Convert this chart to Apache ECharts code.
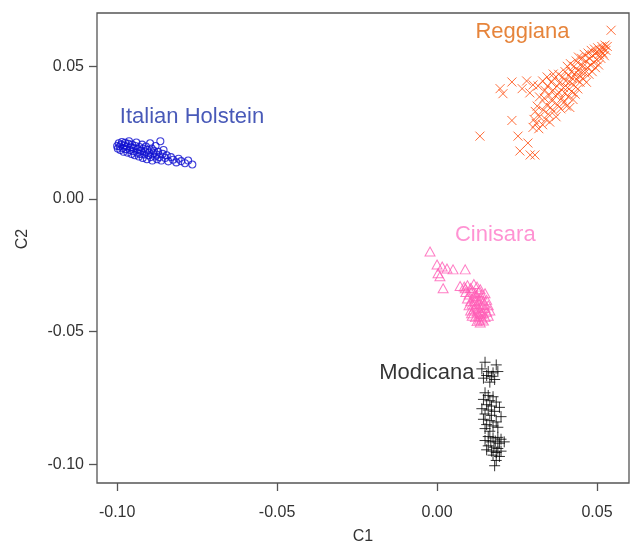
<!DOCTYPE html>
<html>
<head>
<meta charset="utf-8">
<script src="https://cdn.jsdelivr.net/npm/echarts@6/dist/echarts.min.js"></script>
<style>
html,body{margin:0;padding:0;background:#fff;}
#chart{width:631px;height:550px;}
</style>
</head>
<body>
<div id="chart"></div>
<script>
// ---- Data (C1, C2) ----
var italianHolstein = [
[-0.1000,0.0200],[-0.0998,0.0190],[-0.0995,0.0210],[-0.0992,0.0198],[-0.0990,0.0185],[-0.0987,0.0205],
[-0.0985,0.0215],[-0.0982,0.0192],[-0.0980,0.0178],[-0.0978,0.0202],[-0.0975,0.0212],[-0.0973,0.0188],
[-0.0970,0.0198],[-0.0968,0.0175],[-0.0965,0.0208],[-0.0963,0.0218],[-0.0960,0.0185],[-0.0958,0.0195],
[-0.0955,0.0170],[-0.0953,0.0205],[-0.0950,0.0180],[-0.0948,0.0192],[-0.0945,0.0165],[-0.0943,0.0200],
[-0.0940,0.0213],[-0.0938,0.0175],[-0.0935,0.0188],[-0.0932,0.0160],[-0.0930,0.0196],[-0.0928,0.0170],
[-0.0925,0.0182],[-0.0922,0.0205],[-0.0920,0.0155],[-0.0918,0.0190],[-0.0915,0.0168],[-0.0912,0.0178],
[-0.0910,0.0198],[-0.0907,0.0150],[-0.0905,0.0185],[-0.0902,0.0165],[-0.0900,0.0175],[-0.0897,0.0210],
[-0.0895,0.0158],[-0.0892,0.0190],[-0.0890,0.0145],[-0.0887,0.0172],[-0.0885,0.0182],[-0.0882,0.0160],
[-0.0880,0.0200],[-0.0877,0.0168],[-0.0875,0.0150],[-0.0872,0.0178],[-0.0868,0.0158],[-0.0865,0.0218],
[-0.0862,0.0145],[-0.0858,0.0170],[-0.0855,0.0185],[-0.0850,0.0155],[-0.0845,0.0165],[-0.0840,0.0142],
[-0.0832,0.0158],[-0.0825,0.0148],[-0.0815,0.0138],[-0.0808,0.0152],[-0.0800,0.0143],[-0.0788,0.0135],
[-0.0778,0.0145],[-0.0765,0.0130]
];
var reggiana = [
[0.0300,0.0270],[0.0303,0.0300],[0.0307,0.0330],[0.0310,0.0285],[0.0313,0.0350],[0.0318,0.0265],[0.0320,0.0310],
[0.0330,0.0280],[0.0332,0.0335],[0.0335,0.0380],[0.0337,0.0410],[0.0340,0.0300],[0.0342,0.0355],[0.0345,0.0425],
[0.0348,0.0320],[0.0350,0.0390],
[0.0352,0.0290],[0.0355,0.0345],[0.0357,0.0440],[0.0360,0.0370],[0.0362,0.0410],[0.0365,0.0330],[0.0367,0.0455],
[0.0370,0.0390],[0.0372,0.0310],[0.0375,0.0425],
[0.0377,0.0355],[0.0380,0.0470],[0.0382,0.0400],[0.0385,0.0440],[0.0387,0.0340],[0.0390,0.0380],[0.0392,0.0460],
[0.0395,0.0420],[0.0397,0.0365],[0.0400,0.0480],[0.0400,0.0400],
[0.0402,0.0445],[0.0405,0.0350],[0.0407,0.0500],[0.0408,0.0420],[0.0410,0.0385],[0.0412,0.0465],[0.0415,0.0440],
[0.0415,0.0345],[0.0417,0.0510],[0.0420,0.0405],[0.0420,0.0480],[0.0422,0.0455],[0.0425,0.0375],
[0.0427,0.0430],[0.0428,0.0500],[0.0430,0.0470],[0.0432,0.0395],[0.0435,0.0520],[0.0437,0.0450],[0.0440,0.0485],
[0.0440,0.0415],[0.0442,0.0535],[0.0445,0.0465],[0.0447,0.0440],[0.0448,0.0505],
[0.0450,0.0480],[0.0452,0.0530],[0.0455,0.0455],[0.0457,0.0500],[0.0460,0.0545],[0.0462,0.0475],[0.0465,0.0520],
[0.0467,0.0440],[0.0470,0.0495],[0.0472,0.0550],[0.0475,0.0470],
[0.0477,0.0530],[0.0480,0.0505],[0.0482,0.0560],[0.0485,0.0480],[0.0487,0.0540],[0.0490,0.0515],[0.0492,0.0565],
[0.0495,0.0495],[0.0497,0.0550],[0.0500,0.0525],
[0.0502,0.0570],[0.0505,0.0505],[0.0507,0.0545],[0.0510,0.0560],[0.0512,0.0530],[0.0515,0.0575],[0.0518,0.0550],
[0.0520,0.0565],[0.0523,0.0540],[0.0525,0.0580],[0.0528,0.0560],[0.0532,0.0575],
[0.0280,0.0445],[0.0290,0.0400],[0.0300,0.0430],[0.0316,0.0426],[0.0320,0.0385],[0.0330,0.0445],
[0.0344,0.0460],[0.0363,0.0471],
[0.0134,0.0237],[0.0197,0.0416],[0.0206,0.0397],[0.0234,0.0441],[0.0266,0.0416],[0.0234,0.0296],
[0.0253,0.0237],[0.0259,0.0181],[0.0284,0.0211],[0.0291,0.0166],[0.0306,0.0166],[0.0544,0.0636]
];
var cinisara = [
[-0.0022,-0.0198],[0.0000,-0.0247],[0.0016,-0.0254],[0.0031,-0.0262],[0.0050,-0.0265],[0.0088,-0.0265],
[0.0003,-0.0280],[0.0009,-0.0291],[0.0019,-0.0336],[0.0072,-0.0328],[0.0088,-0.0336],
[0.0085,-0.0330],[0.0095,-0.0325],[0.0105,-0.0335],[0.0115,-0.0320],[0.0125,-0.0330],[0.0135,-0.0340],
[0.0090,-0.0350],[0.0100,-0.0360],[0.0110,-0.0345],[0.0120,-0.0355],[0.0130,-0.0350],[0.0140,-0.0360],
[0.0150,-0.0355],[0.0095,-0.0375],[0.0105,-0.0385],[0.0115,-0.0370],[0.0125,-0.0380],[0.0135,-0.0375],
[0.0145,-0.0385],[0.0155,-0.0380],[0.0100,-0.0400],[0.0110,-0.0395],[0.0120,-0.0405],[0.0130,-0.0395],
[0.0140,-0.0400],[0.0150,-0.0410],[0.0160,-0.0400],[0.0105,-0.0420],[0.0115,-0.0415],[0.0125,-0.0425],
[0.0135,-0.0420],[0.0145,-0.0430],[0.0155,-0.0425],[0.0165,-0.0420],[0.0110,-0.0440],[0.0120,-0.0445],
[0.0130,-0.0440],[0.0140,-0.0450],[0.0150,-0.0445],[0.0160,-0.0440],[0.0125,-0.0460],[0.0135,-0.0465],
[0.0145,-0.0458],[0.0118,-0.0385],[0.0128,-0.0410],[0.0138,-0.0432],[0.0122,-0.0365],[0.0108,-0.0430],
[0.0148,-0.0395],[0.0132,-0.0455]
];
var modicana = [
[0.0150,-0.0615],[0.0185,-0.0625],[0.0140,-0.0640],[0.0160,-0.0650],[0.0175,-0.0655],[0.0190,-0.0650],
[0.0155,-0.0665],[0.0170,-0.0668],[0.0145,-0.0675],[0.0180,-0.0680],[0.0165,-0.0690],
[0.0150,-0.0730],[0.0160,-0.0740],[0.0175,-0.0745],[0.0145,-0.0755],[0.0165,-0.0760],[0.0185,-0.0765],
[0.0155,-0.0775],[0.0170,-0.0780],[0.0195,-0.0785],[0.0140,-0.0790],[0.0160,-0.0795],[0.0180,-0.0800],
[0.0150,-0.0810],[0.0170,-0.0815],[0.0200,-0.0820],[0.0145,-0.0830],[0.0165,-0.0835],[0.0185,-0.0840],
[0.0155,-0.0850],[0.0175,-0.0855],[0.0150,-0.0865],[0.0190,-0.0860],[0.0165,-0.0875],
[0.0160,-0.0895],[0.0175,-0.0900],[0.0190,-0.0898],[0.0200,-0.0905],[0.0150,-0.0910],[0.0168,-0.0915],
[0.0182,-0.0912],[0.0195,-0.0920],[0.0210,-0.0915],[0.0160,-0.0930],[0.0178,-0.0935],[0.0190,-0.0940],
[0.0170,-0.0950],[0.0185,-0.0955],[0.0200,-0.0950],[0.0155,-0.0945],[0.0175,-0.0965],[0.0195,-0.0970],
[0.0185,-0.0985],[0.0180,-0.1005]
];
// group labels: [name, C1, C2]
var groupLabels = [
["Italian Holstein", -0.0766, 0.0311],
["Reggiana", 0.0267, 0.0630],
["Cinisara", 0.0182, -0.0135],
["Modicana", -0.0032, -0.0654]
];
var xTicks = [-0.10, -0.05, 0.00, 0.05];
var yTicks = [-0.10, -0.05, 0.00, 0.05];

var labelColors = {"Italian Holstein":"#1a2fa6","Reggiana":"#e0650a","Cinisara":"#ff78c8","Modicana":"#000000"};
var FONT = "'Liberation Sans', Arial, sans-serif";

var chart = echarts.init(document.getElementById('chart'), null, {renderer:'canvas'});
function fmt(v){ return v.toFixed(2); }
var option = {
  backgroundColor:'#ffffff',
  animation:false,
  grid:{left:97, top:13, right:2, bottom:61, show:true, borderColor:'#555', borderWidth:1.3, backgroundColor:'transparent'},
  xAxis:{
    type:'value', min:-0.1063, max:0.0600, position:'bottom',
    name:'C1', nameLocation:'middle', nameGap:46,
    nameTextStyle:{fontFamily:FONT, fontSize:16, color:'#333'},
    splitLine:{show:false},
    axisLine:{show:false, onZero:false},
    axisTick:{show:true, length:8, customValues:xTicks, lineStyle:{color:'#555', width:1.3}},
    axisLabel:{customValues:xTicks, formatter:fmt, margin:22, fontFamily:FONT, fontSize:16, color:'#333'}
  },
  yAxis:{
    type:'value', min:-0.1070, max:0.0701, position:'left',
    name:'C2', nameLocation:'middle', nameGap:66,
    nameTextStyle:{fontFamily:FONT, fontSize:16, color:'#333', padding:[0,0,0,18]},
    splitLine:{show:false},
    axisLine:{show:false, onZero:false},
    axisTick:{show:true, length:8, customValues:yTicks, lineStyle:{color:'#555', width:1.3}},
    axisLabel:{customValues:yTicks, formatter:fmt, margin:13, fontFamily:FONT, fontSize:16, color:'#333'}
  },
  series:[
    {type:'scatter', name:'Italian Holstein', data:italianHolstein, symbol:'circle', symbolSize:7,
     itemStyle:{color:'rgba(0,0,0,0)', borderColor:'#1010d0', borderWidth:1.1}},
    {type:'scatter', name:'Reggiana', data:reggiana, symbol:'path://M0,0L10,10M10,0L0,10', symbolSize:9,
     itemStyle:{color:'rgba(0,0,0,0)', borderColor:'#ff4a0a', borderWidth:1}},
    {type:'scatter', name:'Cinisara', data:cinisara, symbol:'triangle', symbolSize:[10,9],
     itemStyle:{color:'rgba(0,0,0,0)', borderColor:'#ff5cb5', borderWidth:1}},
    {type:'scatter', name:'Modicana', data:modicana, symbol:'path://M5,0L5,10M0,5L10,5', symbolSize:11,
     itemStyle:{color:'rgba(0,0,0,0)', borderColor:'#000', borderWidth:1}},
    {type:'scatter', name:'labels', silent:true, symbolSize:1,
     itemStyle:{color:'rgba(0,0,0,0)'},
     data: groupLabels.map(function(g){
       return {name:g[0], value:[g[1], g[2]],
         label:{show:true, position:'inside', formatter:'{b}', fontFamily:FONT, fontSize:22, color:labelColors[g[0]]}};
     })}
  ]
};
chart.setOption(option);
</script>
</body>
</html>
